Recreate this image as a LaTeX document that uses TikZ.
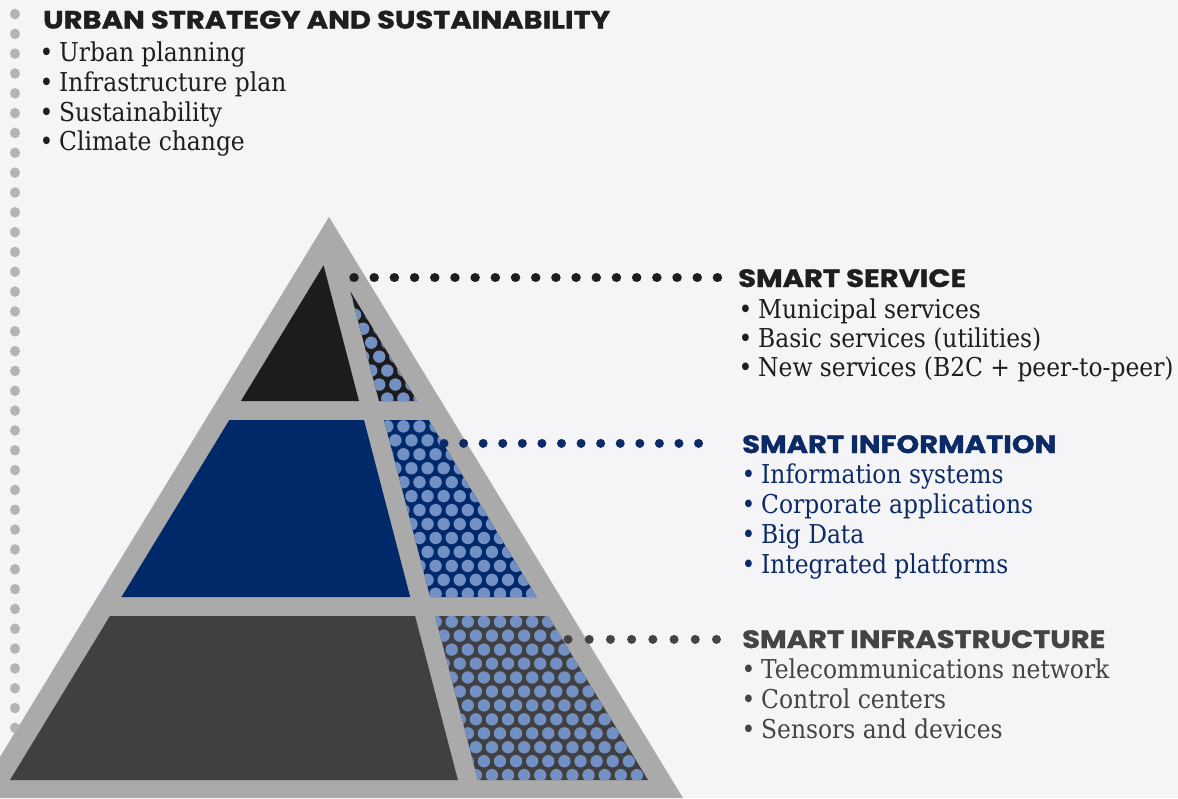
\documentclass[tikz,border=0pt]{standalone}
\usepackage{fontspec}
\newfontfamily\headfont{Poppins}[FakeStretch=1.16, BoldFeatures={FakeBold=1.3}]
\newfontfamily\bodyfont{DejaVu Serif Condensed}
\newcommand{\bl}{\makebox[16pt][l]{\hspace{-3.5pt}•}}
\definecolor{bg}{HTML}{F5F5F7}
\definecolor{pgray}{HTML}{AAAAAA}
\definecolor{ldot}{HTML}{B4B4B4}
\definecolor{topdark}{HTML}{1C1C1C}
\definecolor{navy}{HTML}{00296A}
\definecolor{botdark}{HTML}{404040}
\definecolor{patdot}{HTML}{7290C4}
\definecolor{txtblack}{HTML}{1E1E1E}
\definecolor{txtnavy}{HTML}{0B2A66}
\definecolor{txtgray}{HTML}{444444}
\tikzset{
  headtxt/.style={inner sep=0pt, anchor=base west, font=\headfont\bfseries\fontsize{25}{28}\selectfont},
  bodytxt/.style={inner sep=0pt, anchor=base west, font=\bodyfont\fontsize{26}{29}\selectfont},
  dotline/.style={line cap=round, dash pattern=on 0.01pt off #1},
}
\begin{document}
\begin{tikzpicture}[x=1pt,y=-1pt]
\useasboundingbox (0,0) rectangle (1178,798);
\fill[bg] (0,0) rectangle (1178,798);
\clip (0,0) rectangle (1178,798);
% left vertical dotted line
\coordinate (ltop) at (15,14);
\coordinate (lbot) at (15,728.5);
\draw[ldot, line width=10.5pt, dotline=19.82pt] (ltop) -- (lbot);
% pyramid outer
\fill[pgray] (329,217) -- (683,798) -- (-25,798) -- cycle;
\begin{scope}
  \clip (329,256.4) -- (660.2,800) -- (-2.2,800) -- cycle;
  \fill[topdark] (0,200) -- (306.5,200) -- (359,401) -- (0,401) -- cycle;
  \fill[topdark] (326.5,200) -- (1000,200) -- (1000,401) -- (379,401) -- cycle;
  \fill[navy] (0,420) -- (364,420) -- (410.2,597) -- (0,597) -- cycle;
  \fill[navy] (384,420) -- (1000,420) -- (1000,597) -- (430.2,597) -- cycle;
  \fill[botdark] (0,616) -- (415.1,616) -- (457.9,780) -- (0,780) -- cycle;
  \fill[botdark] (435.1,616) -- (1000,616) -- (1000,780) -- (477.9,780) -- cycle;
  \clip (326.5,200) -- (1000,200) -- (1000,401) -- (379,401) -- cycle
        (384,420) -- (1000,420) -- (1000,597) -- (430.2,597) -- cycle
        (435.1,616) -- (1000,616) -- (1000,780) -- (477.9,780) -- cycle;
  \foreach \k in {-25,...,12} {
    \foreach \j in {-6,...,14} {
      \pgfmathsetmacro\xx{451.7+\j*16.1-mod(abs(\k),2)*8.05}
      \pgfmathsetmacro\yy{621.7+\k*13.95}
      \fill[patdot] (\xx,\yy) circle (6.2pt);
    }
  }
\end{scope}
% connectors
\coordinate (svcA) at (354,277.7);
\coordinate (svcB) at (717.5,277.7);
\draw[txtblack, line width=9.5pt, dotline=20.18pt] (svcA) -- (svcB);
\coordinate (infA) at (444,443);
\coordinate (infB) at (717.5,443);
\draw[txtnavy, line width=9pt, dotline=19.57pt] (infA) -- (infB);
\coordinate (insA) at (568,639);
\coordinate (insB) at (716.5,639);
\draw[txtgray, line width=9pt, dotline=21.2pt] (insA) -- (insB);
% texts
\node[headtxt, text=txtblack] (urbh) at (43,28.5) {URBAN STRATEGY AND SUSTAINABILITY};
\node[bodytxt, text=txtblack] (urb1) at (43,61.5) {\bl Urban planning};
\node[bodytxt, text=txtblack] (urb2) at (43,91.5) {\bl Infrastructure plan};
\node[bodytxt, text=txtblack] (urb3) at (43,121) {\bl Sustainability};
\node[bodytxt, text=txtblack] (urb4) at (43,150.5) {\bl Climate change};
\node[headtxt, text=txtblack] (svch) at (738,287) {SMART SERVICE};
\node[bodytxt, text=txtblack] (svc1) at (742,318) {\bl Municipal services};
\node[bodytxt, text=txtblack] (svc2) at (742,347) {\bl Basic services (utilities)};
\node[bodytxt, text=txtblack] (svc3) at (742,376.5) {\bl New services (B2C + peer-to-peer)};
\node[headtxt, text=txtnavy] (infh) at (742,453) {SMART INFORMATION};
\node[bodytxt, text=txtnavy] (inf1) at (745,483) {\bl Information systems};
\node[bodytxt, text=txtnavy] (inf2) at (745,513) {\bl Corporate applications};
\node[bodytxt, text=txtnavy] (inf3) at (745,543) {\bl Big Data};
\node[bodytxt, text=txtnavy] (inf4) at (745,573) {\bl Integrated platforms};
\node[headtxt, text=txtgray] (insh) at (742,648) {SMART INFRASTRUCTURE};
\node[bodytxt, text=txtgray] (ins1) at (745,678) {\bl Telecommunications network};
\node[bodytxt, text=txtgray] (ins2) at (745,708) {\bl Control centers};
\node[bodytxt, text=txtgray] (ins3) at (745,738) {\bl Sensors and devices};
\end{tikzpicture}
\end{document}
